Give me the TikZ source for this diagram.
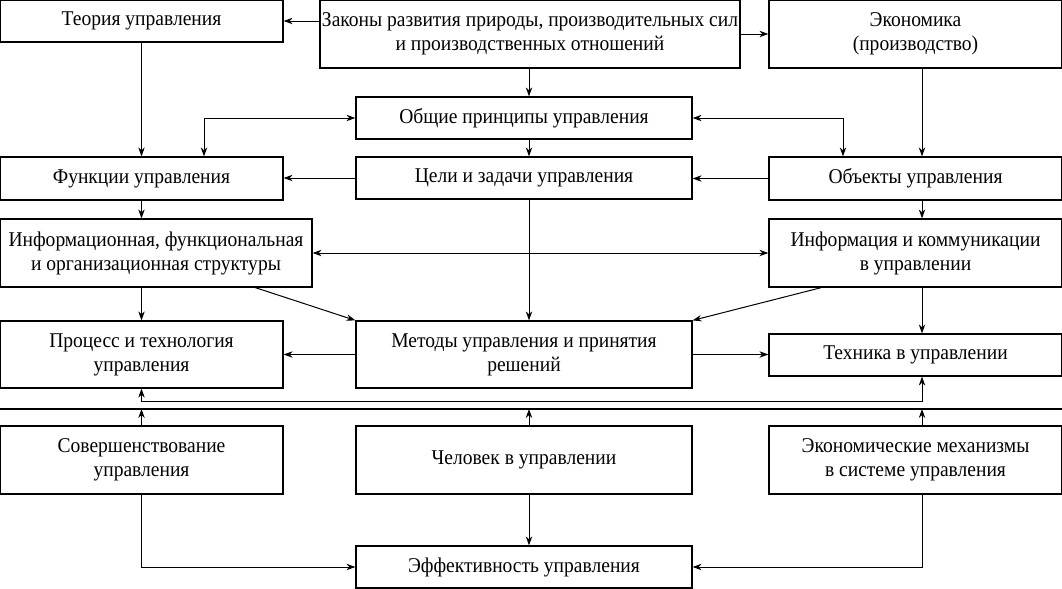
\documentclass[tikz,border=0pt]{standalone}
\usepackage{fontspec}
\setmainfont{Liberation Serif}[FakeStretch=0.93]
\usetikzlibrary{arrows.meta,calc}
\tikzset{
  box/.style={draw, line width=0.6pt, inner sep=1pt, align=center,
    font=\fontsize{10.5}{12}\selectfont},
  arr/.style={-{Stealth[length=4.5pt,width=3.2pt]}, line width=0.5pt},
  darr/.style={{Stealth[length=4.5pt,width=3.2pt]}-{Stealth[length=4.5pt,width=3.2pt]}, line width=0.5pt},
}
\begin{document}
\begin{tikzpicture}[x=0.5pt, y=-0.5pt]
  \useasboundingbox (0,0) rectangle (1062,589);

  % helper positions
  \coordinate (spine) at (529,0);
  \coordinate (rspine) at (922,0);
  \coordinate (lbend) at (204,0);
  \coordinate (rbend) at (843,0);
  \coordinate (bus) at (0,401);
  \coordinate (sep) at (0,409);

  % top row
  \node[box, minimum width=141.5pt, minimum height=21pt] (teoria) at (141.5,21) {Теория управления};
  \node[box, minimum width=210pt, minimum height=34pt] (zakony) at (530,34) {Законы развития природы, производительных сил\\и производственных отношений};
  \node[box, minimum width=146.5pt, minimum height=34pt] (ekon) at (915.5,34) {Экономика\\(производство)};

  % middle blocks
  \node[box, minimum width=168pt, minimum height=21pt] (princ) at (524,118) {Общие принципы управления};
  \node[box, minimum width=168pt, minimum height=21pt] (celi) at (524,178) {Цели и задачи управления};
  \node[box, minimum width=141.5pt, minimum height=21.5pt] (funk) at (141.5,178.5) {Функции управления};
  \node[box, minimum width=146.5pt, minimum height=21.5pt] (obj) at (915.5,178.5) {Объекты управления};
  \node[box, minimum width=156pt, minimum height=34pt] (infstr) at (156,253) {Информационная, функциональная\\и организационная структуры};
  \node[box, minimum width=146.5pt, minimum height=34pt] (infkom) at (915.5,253) {Информация и коммуникации\\в управлении};
  \node[box, minimum width=141.5pt, minimum height=33.5pt] (proc) at (141.5,354.5) {Процесс и технология\\управления};
  \node[box, minimum width=168pt, minimum height=33.5pt] (metod) at (524,354.5) {Методы управления и принятия\\решений};
  \node[box, minimum width=146.5pt, minimum height=21pt] (tech) at (915.5,355) {Техника в управлении};

  % bottom row
  \node[box, minimum width=141.5pt, minimum height=34pt] (sover) at (141.5,460) {Совершенствование\\управления};
  \node[box, minimum width=168pt, minimum height=34pt] (chel) at (524,460) {Человек в управлении};
  \node[box, minimum width=146.5pt, minimum height=34pt] (mech) at (915.5,460) {Экономические механизмы\\в системе управления};
  \node[box, minimum width=168pt, minimum height=21pt] (effect) at (524,567) {Эффективность управления};

  % arrows from the laws
  \draw[arr] (zakony.west |- teoria.east) -- (teoria.east);
  \draw[arr] (zakony.east) -- (ekon.west);
  \draw[arr] (zakony.south -| spine) -- (princ.north -| spine);
  \draw[arr] (princ.south -| spine) -- (celi.north -| spine);
  \draw[arr] (teoria.south) -- (funk.north);
  \draw[arr] (ekon.south -| rspine) -- (obj.north -| rspine);

  % principles both ways
  \draw[darr] (funk.north -| lbend) |- (princ.west);
  \draw[darr] (obj.north -| rbend) |- (princ.east);

  % goals row
  \draw[arr] (celi.west) -- (celi.west -| funk.east);
  \draw[arr] (obj.west) -- (obj.west -| celi.east);
  \draw[arr] (funk.south) -- (infstr.north -| funk.south);
  \draw[arr] (obj.south -| rspine) -- (infkom.north -| rspine);

  % structures and information
  \draw[darr] (infstr.east) -- (infkom.west);
  \draw[arr] (celi.south -| spine) -- (metod.north -| spine);
  \draw[arr] ($(infstr.south west)!0.817!(infstr.south east)$) -- (metod.north west);
  \draw[arr] ($(infkom.south west)!0.18!(infkom.south east)$) -- (metod.north east);
  \draw[arr] (infstr.south -| proc.north) -- (proc.north);
  \draw[arr] (infkom.south -| rspine) -- (tech.north -| rspine);

  % methods
  \draw[arr] (metod.west) -- (metod.west -| proc.east);
  \draw[arr] (metod.east) -- (metod.east -| tech.west);
  \draw[darr] (proc.south) |- (bus -| rspine) -- (tech.south -| rspine);

  % separator
  \draw[line width=0.6pt] (sep) -- (1062,409);

  % up to the separator
  \draw[arr] (sover.north) -- (sover.north |- sep);
  \draw[arr] (chel.north -| spine) -- (sep -| spine);
  \draw[arr] (mech.north -| rspine) -- (sep -| rspine);

  % down to efficiency
  \draw[arr] (sover.south) |- (effect.west);
  \draw[arr] (chel.south -| spine) -- (effect.north -| spine);
  \draw[arr] (mech.south -| rspine) |- (effect.east);
\end{tikzpicture}
\end{document}
